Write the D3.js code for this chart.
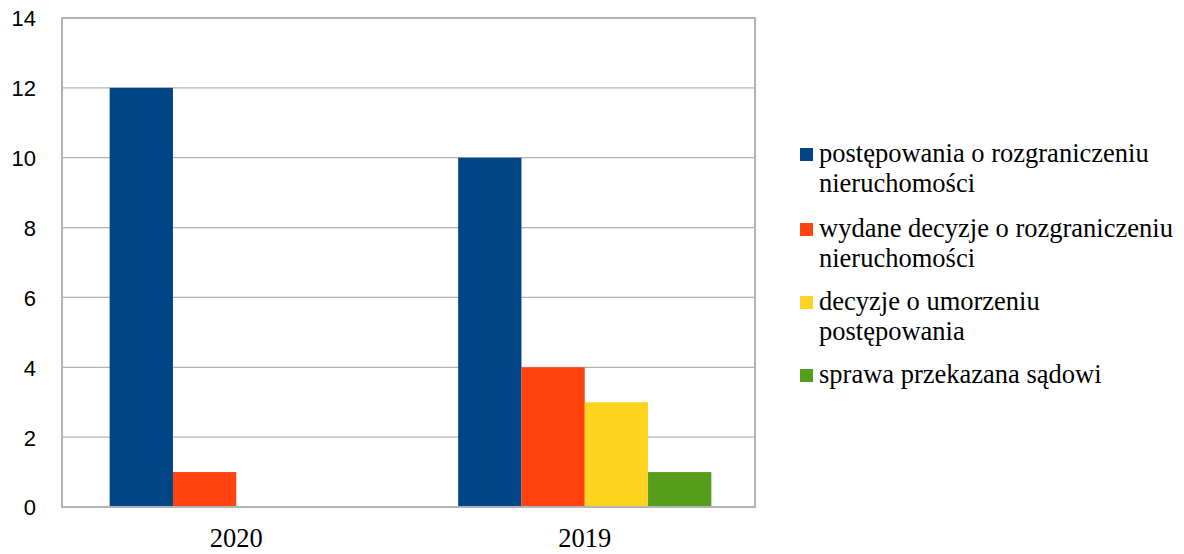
<!DOCTYPE html>
<html>
<head>
<meta charset="utf-8">
<script src="https://cdn.jsdelivr.net/npm/d3@7"></script>
<style>
  html, body { margin: 0; padding: 0; background: #fff; }
  svg { display: block; }
</style>
</head>
<body>
<svg id="chart" width="1184" height="554"></svg>
<script>
// ---- data ----
const categories = ["2020", "2019"];
const seriesNames = [
  "postępowania o rozgraniczeniu\nnieruchomości",
  "wydane decyzje o rozgraniczeniu\nnieruchomości",
  "decyzje o umorzeniu\npostępowania",
  "sprawa przekazana sądowi"
];
const seriesColors = ["#004586", "#ff420e", "#ffd320", "#579d1c"];
const values2020 = [12, 1, 0, 0];
const values2019 = [10, 4, 3, 1];
const yTicks = [0, 2, 4, 6, 8, 10, 12, 14];

const valuesByCategory = { "2020": values2020, "2019": values2019 };

// ---- layout ----
const plot = { left: 62, right: 755, top: 18, bottom: 507 };
const svg = d3.select("#chart");

const y = d3.scaleLinear().domain([0, 14]).range([plot.bottom, plot.top]);
const x0 = d3.scaleBand().domain(categories).range([plot.left, plot.left + 697]).paddingInner(0).paddingOuter(0);
const x1 = d3.scaleBand().domain(d3.range(seriesNames.length)).range([0, x0.bandwidth()]).paddingInner(0).paddingOuter(0.753);

// gridlines
svg.append("g")
  .selectAll("line")
  .data(yTicks.filter(t => t > 0 && t < 14))
  .join("line")
  .attr("x1", plot.left).attr("x2", plot.right)
  .attr("y1", d => y(d)).attr("y2", d => y(d))
  .attr("stroke", "#b3b3b3").attr("stroke-width", 1.3);

// bars
const groups = svg.append("g").selectAll("g")
  .data(categories)
  .join("g")
  .attr("transform", d => `translate(${x0(d)},0)`);

groups.selectAll("rect")
  .data(c => valuesByCategory[c].map((v, i) => ({ v, i })))
  .join("rect")
  .attr("x", d => x1(d.i))
  .attr("width", x1.bandwidth())
  .attr("y", d => y(d.v))
  .attr("height", d => y(0) - y(d.v))
  .attr("fill", d => seriesColors[d.i]);

// frame
svg.append("rect")
  .attr("x", plot.left).attr("y", plot.top)
  .attr("width", plot.right - plot.left).attr("height", plot.bottom - plot.top)
  .attr("fill", "none").attr("stroke", "#b3b3b3").attr("stroke-width", 2);

// y axis
const yAxis = d3.axisLeft(y).tickValues(yTicks).tickSize(0).tickPadding(0).tickFormat(d3.format("d"));
const gy = svg.append("g").attr("transform", `translate(36,0)`).call(yAxis);
gy.select(".domain").remove();
gy.selectAll("text")
  .attr("font-family", "'Liberation Sans', Arial, sans-serif")
  .attr("font-size", 22)
  .attr("fill", "#000")
  .attr("dy", "0.36em");

// x axis
const xAxis = d3.axisBottom(x0).tickSize(0).tickPadding(0);
const gx = svg.append("g").attr("transform", `translate(0,${plot.bottom})`).call(xAxis);
gx.select(".domain").remove();
gx.selectAll("text")
  .attr("font-family", "'Liberation Serif', 'Times New Roman', serif")
  .attr("font-size", 26.5)
  .attr("fill", "#000")
  .attr("dy", null)
  .attr("y", 40);

// legend
const legendBaselines = [162, 237, 310, 383];
const legend = svg.append("g").selectAll("g")
  .data(seriesNames)
  .join("g")
  .attr("transform", (d, i) => `translate(800,${legendBaselines[i]})`);

legend.append("rect")
  .attr("x", 0).attr("y", -14)
  .attr("width", 13).attr("height", 13)
  .attr("fill", (d, i) => seriesColors[i]);

legend.append("text")
  .attr("x", 19)
  .attr("font-family", "'Liberation Serif', 'Times New Roman', serif")
  .attr("font-size", 26.5)
  .attr("fill", "#000")
  .selectAll("tspan")
  .data(d => d.split("\n"))
  .join("tspan")
  .attr("x", 19)
  .attr("dy", (d, i) => i === 0 ? 0 : 30)
  .text(d => d);
</script>
</body>
</html>
